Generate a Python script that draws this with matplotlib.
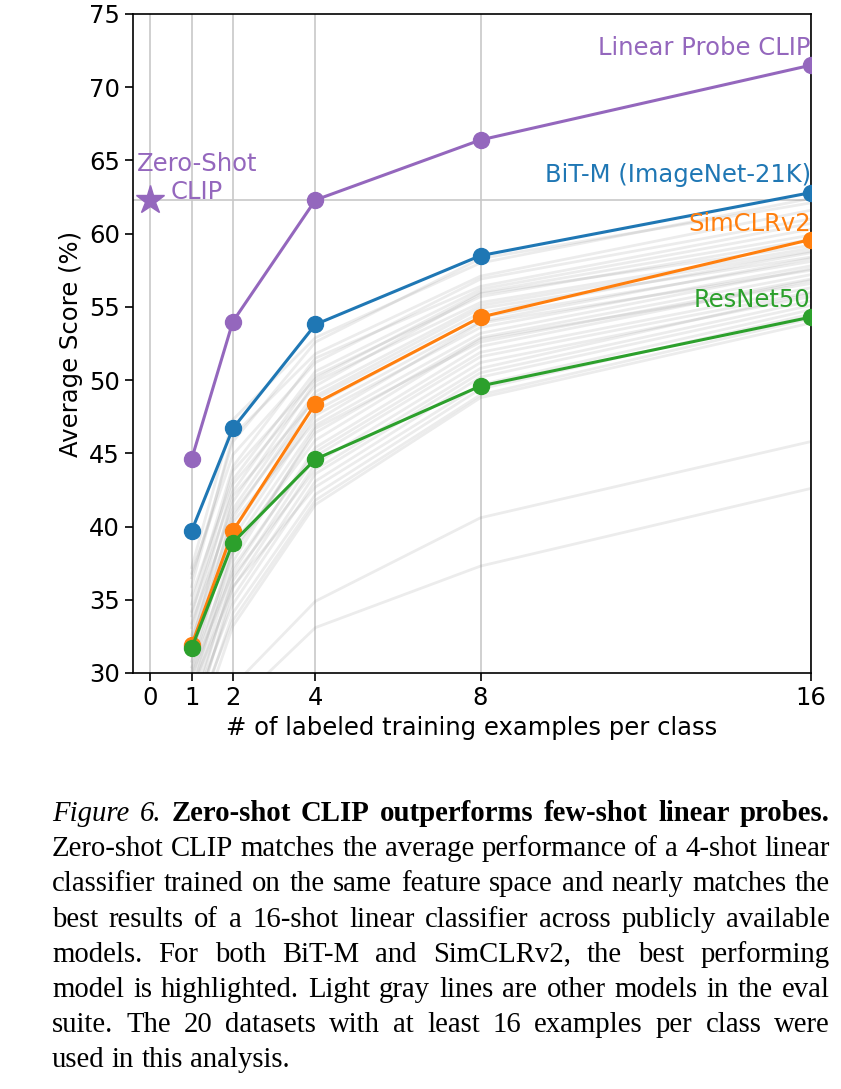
import matplotlib
matplotlib.use('Agg')
import matplotlib.pyplot as plt

# shots per class
shots = [1, 2, 4, 8, 16]

# highlighted models (average score %)
linear_probe_clip = [44.6, 54.0, 62.3, 66.4, 71.5]
bit_m = [39.7, 46.7, 53.8, 58.5, 62.8]
simclr_v2 = [31.9, 39.7, 48.4, 54.3, 59.6]
resnet50 = [31.7, 38.9, 44.6, 49.6, 54.3]
zero_shot_clip = 62.3

# other models in the eval suite (light gray)
other_models = [
    [37.2, 47.3, 52.9, 58.0, 62.4],
    [36.5, 45.8, 52.6, 58.3, 62.1],
    [35.9, 46.2, 51.8, 57.1, 61.6],
    [36.8, 44.9, 51.2, 56.9, 61.0],
    [34.7, 44.1, 51.5, 56.4, 60.7],
    [35.3, 43.2, 50.6, 56.2, 60.3],
    [33.9, 43.8, 50.1, 56.0, 59.9],
    [34.2, 42.4, 50.3, 55.7, 59.6],
    [33.1, 42.9, 49.6, 55.9, 59.2],
    [32.6, 41.7, 49.9, 55.3, 59.0],
    [33.4, 41.2, 49.2, 55.1, 58.8],
    [31.9, 42.1, 48.7, 54.6, 58.7],
    [32.3, 40.6, 48.9, 54.9, 58.4],
    [31.2, 40.9, 48.3, 54.3, 58.1],
    [30.8, 39.7, 47.9, 54.0, 58.3],
    [31.5, 39.2, 47.6, 53.6, 57.8],
    [30.1, 40.3, 47.2, 53.9, 57.5],
    [29.6, 38.7, 46.9, 53.2, 57.6],
    [30.4, 38.1, 46.4, 52.9, 57.2],
    [29.2, 37.6, 46.7, 52.6, 56.9],
    [28.7, 38.4, 45.9, 52.8, 56.6],
    [29.9, 36.9, 45.4, 52.3, 56.8],
    [28.3, 37.2, 45.1, 51.9, 56.3],
    [27.8, 36.3, 44.8, 51.6, 56.0],
    [28.9, 35.8, 44.3, 51.2, 55.7],
    [27.2, 36.6, 43.9, 50.8, 55.9],
    [26.8, 35.2, 43.6, 50.5, 55.4],
    [27.5, 34.7, 43.1, 50.2, 55.1],
    [26.1, 35.9, 42.7, 49.7, 54.8],
    [25.6, 34.1, 42.2, 49.4, 54.5],
    [26.4, 33.6, 41.8, 49.0, 54.2],
    [25.0, 33.2, 41.5, 48.8, 53.9],
    [22.1, 29.1, 34.9, 40.6, 45.8],
    [19.8, 27.7, 33.1, 37.3, 42.6],
]

caption_lines = [
    [("Figure", "italic"), ("6.", "italic"), ("Zero-shot", "bold"), ("CLIP", "bold"),
     ("outperforms", "bold"), ("few-shot", "bold"), ("linear", "bold"), ("probes.", "bold")],
    "Zero-shot CLIP matches the average performance of a 4-shot linear",
    "classifier trained on the same feature space and nearly matches the",
    "best results of a 16-shot linear classifier across publicly available",
    "models.  For both BiT-M and SimCLRv2, the best performing",
    "model is highlighted. Light gray lines are other models in the eval",
    "suite.  The 20 datasets with at least 16 examples per class were",
    "used in this analysis.",
]

W, H = 841, 1089
fig = plt.figure(figsize=(W / 100, H / 100), dpi=100)
ax = fig.add_axes([133 / W, 1 - 673 / H, (810.7 - 133) / W, (673 - 14) / H])

FS = 17.5
purple, blue, orange, green = '#9467bd', '#1f77b4', '#ff7f0e', '#2ca02c'

for ys in other_models:
    ax.plot(shots, ys, color='gray', alpha=0.15, lw=2.0, zorder=1)

ax.axhline(zero_shot_clip, color='#c8c8c8', lw=1.2, zorder=0)
ax.plot([0], [zero_shot_clip], '*', color=purple, ms=21, zorder=4, clip_on=False)

for ys, c in [(linear_probe_clip, purple), (bit_m, blue), (simclr_v2, orange), (resnet50, green)]:
    ax.plot(shots, ys, '-o', color=c, lw=2.2, ms=11.5, zorder=3)

ax.text(16, 72.2, 'Linear Probe CLIP', color=purple, fontsize=FS, ha='right', va='baseline')
ax.text(16, 63.5, 'BiT-M (ImageNet-21K)', color=blue, fontsize=FS, ha='right', va='baseline')
ax.text(16, 60.2, 'SimCLRv2', color=orange, fontsize=FS, ha='right', va='baseline')
ax.text(16, 55.0, 'ResNet50', color=green, fontsize=FS, ha='right', va='baseline')
ax.text(1.13, 62.4, 'Zero-Shot\nCLIP', color=purple, fontsize=FS, ha='center', va='baseline',
        multialignment='center', linespacing=1.2)

ax.set_xlim(-0.42, 16)
ax.set_ylim(30, 75)
ax.set_xticks([0] + shots)
ax.set_yticks(range(30, 80, 5))
ax.grid(axis='x', color='#c8c8c8', lw=1.2)
ax.set_axisbelow(True)
ax.tick_params(labelsize=FS, length=6, width=1.2)
for s in ax.spines.values():
    s.set_linewidth(1.2)
ax.set_xlabel('# of labeled training examples per class', fontsize=FS)
ax.set_ylabel('Average Score (%)', fontsize=FS)

# caption, justified between x0 and x1
renderer = fig.canvas.get_renderer()
x0, x1 = 52, 830
base0, step = 821, 35.2

# pick caption size so the second line sets almost without stretching
probe = fig.text(0, 0, caption_lines[1], fontsize=20, family='Liberation Serif')
CFS = 20 * 774 / probe.get_window_extent(renderer).width
probe.remove()

for i, line in enumerate(caption_lines):
    if isinstance(line, str):
        words = [(w, 'normal') for w in line.split()]
    else:
        words = line
    objs = []
    for w, st in words:
        kw = dict(fontstyle='italic') if st == 'italic' else (dict(fontweight='bold') if st == 'bold' else {})
        objs.append(fig.text(0, 1 - (base0 + i * step) / H, w, fontsize=CFS,
                             family='Liberation Serif', va='baseline', ha='left', **kw))
    widths = [t.get_window_extent(renderer).width for t in objs]
    if i < len(caption_lines) - 1:
        gap = (x1 - x0 - sum(widths)) / (len(objs) - 1)
    else:
        gap = CFS * 100 / 72 * 0.25
    x = x0
    for t, w in zip(objs, widths):
        t.set_x(x / W)
        x += w + gap

fig.savefig('out.png', dpi=100)
